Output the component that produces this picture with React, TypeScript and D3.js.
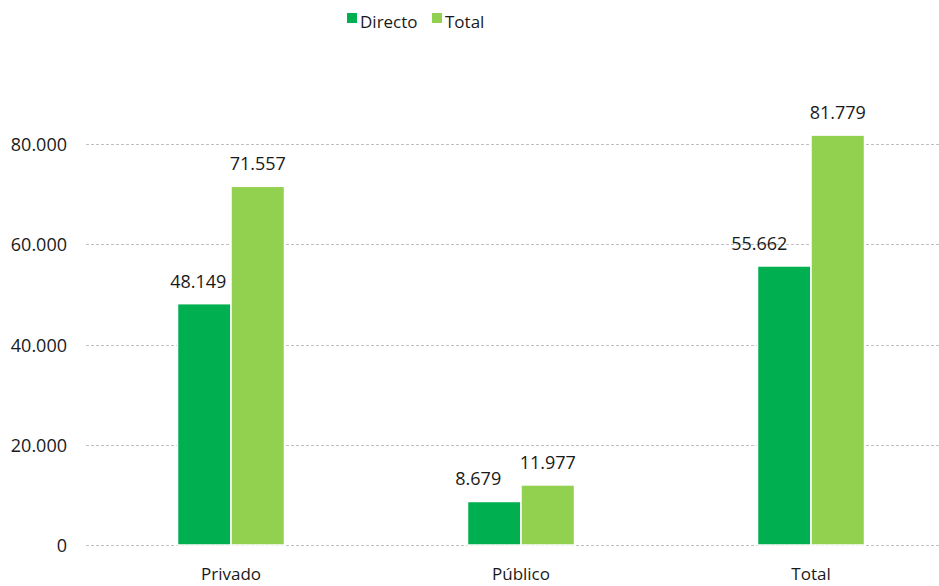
import React, { useRef, useEffect } from "react";
import * as d3 from "d3";

const categories = ["Privado", "Público", "Total"];
const seriesNames = ["Directo", "Total"];
const directo = [48149, 8679, 55662];
const total = [71557, 11977, 81779];
const yTicks = [0, 20000, 40000, 60000, 80000];
const colors = ["#00b050", "#92d050"];
// Excel nudges the Directo labels left so they clear the Total bar
const directoLabelShift = [-6, -16, -25];

const fmt = (v: number) => d3.format(",")(v).replace(/,/g, ".");

const App: React.FC = () => {
  const svgRef = useRef<SVGSVGElement>(null);

  useEffect(() => {
    if (!svgRef.current) return;
    const svg = d3.select(svgRef.current);
    svg.selectAll("*").remove();

    const width = 939;
    const height = 586;
    const font = "'Open Sans', 'Liberation Sans', sans-serif";
    const textColor = "#1a1a1a";

    svg.attr("width", width).attr("height", height).style("display", "block");

    // Scales
    const x = d3.scaleBand<string>().domain(categories).range([86, 956]);
    const y = d3.scaleLinear().domain([0, 80000]).range([545, 144]);
    const xInner = d3.scaleBand<string>().domain(seriesNames).range([0, 107]);
    const groupLeft = (c: string) => x(c)! + x.bandwidth() / 2 - 53.5;

    // Grid lines
    svg
      .append("g")
      .selectAll("line")
      .data(yTicks)
      .enter()
      .append("line")
      .attr("x1", 86)
      .attr("x2", width)
      .attr("y1", (d) => Math.round(y(d)) + 0.5)
      .attr("y2", (d) => Math.round(y(d)) + 0.5)
      .attr("stroke", "#c0c0c0")
      .attr("stroke-width", 1)
      .attr("stroke-dasharray", "3 2");

    // Y tick labels
    svg
      .append("g")
      .selectAll("text")
      .data(yTicks)
      .enter()
      .append("text")
      .attr("x", 67)
      .attr("y", (d) => y(d) + 7)
      .attr("text-anchor", "end")
      .attr("font-family", font)
      .attr("font-size", 18)
      .attr("fill", textColor)
      .text((d) => fmt(d));

    const series = [directo, total];
    series.forEach((vals, si) => {
      const g = svg.append("g");
      g.selectAll("rect")
        .data(vals)
        .enter()
        .append("rect")
        .attr("x", (_d, i) => groupLeft(categories[i]) + xInner(seriesNames[si])!)
        .attr("y", (d) => y(d))
        .attr("width", xInner.bandwidth())
        .attr("height", (d) => y(0) - y(d))
        .attr("fill", colors[si])
        .attr("stroke", "#ffffff")
        .attr("stroke-width", 1.5);

      g.selectAll("text")
        .data(vals)
        .enter()
        .append("text")
        .attr(
          "x",
          (_d, i) =>
            groupLeft(categories[i]) +
            xInner(seriesNames[si])! +
            xInner.bandwidth() / 2 +
            (si === 0 ? directoLabelShift[i] : 0)
        )
        .attr("y", (d) => y(d) - 16)
        .attr("text-anchor", "middle")
        .attr("font-family", font)
        .attr("font-size", 18)
        .attr("fill", textColor)
        .text((d) => fmt(d));
    });

    // Category labels
    svg
      .append("g")
      .selectAll("text")
      .data(categories)
      .enter()
      .append("text")
      .attr("x", (d) => x(d)! + x.bandwidth() / 2)
      .attr("y", 580)
      .attr("text-anchor", "middle")
      .attr("font-family", font)
      .attr("font-size", 17)
      .attr("fill", textColor)
      .text((d) => d);

    // Legend
    const legend = svg.append("g");
    const legendX = [347, 432];
    seriesNames.forEach((name, i) => {
      legend
        .append("rect")
        .attr("x", legendX[i])
        .attr("y", 13)
        .attr("width", 10)
        .attr("height", 10)
        .attr("fill", colors[i]);
      legend
        .append("text")
        .attr("x", legendX[i] + 13)
        .attr("y", 28)
        .attr("font-family", font)
        .attr("font-size", 17)
        .attr("fill", textColor)
        .text(name);
    });
  }, []);

  return (
    <div style={{ position: "absolute", left: 0, top: 0, width: 939, height: 586, overflow: "hidden" }}>
      <svg ref={svgRef}></svg>
    </div>
  );
};

export default App;
